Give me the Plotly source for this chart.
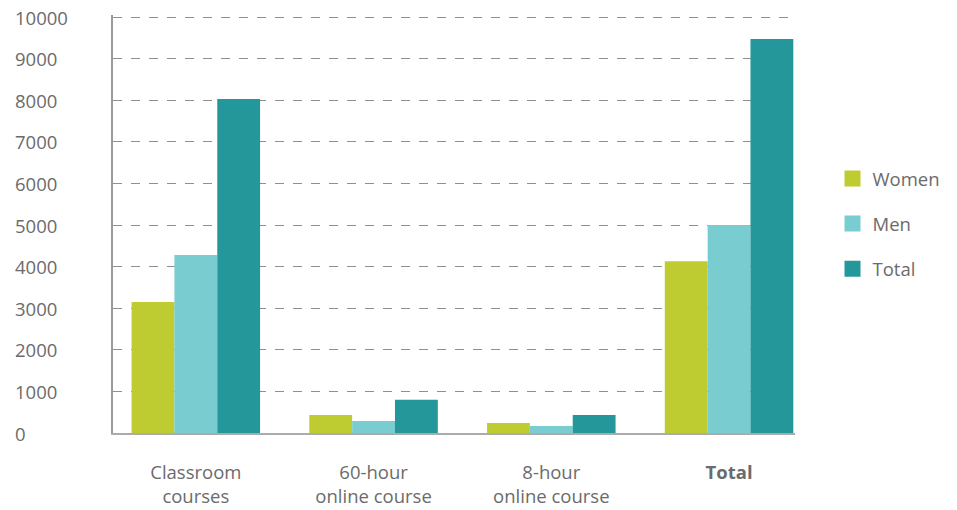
import plotly.graph_objects as go

categories = ["Classroom<br>courses", "60-hour<br>online course", "8-hour<br>online course", "<b>Total</b>"]
women = [3150, 430, 240, 4130]
men = [4280, 290, 170, 5000]
total = [8030, 800, 430, 9470]
y_ticks = [0, 1000, 2000, 3000, 4000, 5000, 6000, 7000, 8000, 9000, 10000]

series = [("Women", women, "#BFCC31"), ("Men", men, "#79CDD0"), ("Total", total, "#24979A")]
FONT = "'Open Sans', Lato, sans-serif"
TXT = "#6b6b6b"

fig = go.Figure()
for i, (name, vals, col) in enumerate(series):
    fig.add_trace(go.Bar(x=categories, y=vals, name=name, marker=dict(color=col, line=dict(width=0)),
                         showlegend=False))
for i, (name, vals, col) in enumerate(series):
    fig.add_trace(go.Scatter(x=[None], y=[None], mode="markers", name=name, legendgroup=name,
                             marker=dict(symbol="square", size=22, color=col), showlegend=True))

annotations = [dict(xref="paper", yref="y", x=-0.147, y=v, text=str(v), showarrow=False,
                    xanchor="left", yanchor="middle", font=dict(family=FONT, size=18.5, color=TXT))
               for v in y_ticks]

fig.update_layout(
    width=957, height=510,
    margin=dict(l=113, r=160, t=15, b=77),
    paper_bgcolor="white", plot_bgcolor="white",
    barmode="group", bargap=0.277, bargroupgap=0,
    font=dict(family=FONT, size=18, color=TXT),
    xaxis=dict(range=[-0.466, 3.371], showline=True, linecolor="#ababab", linewidth=2,
               showgrid=False, ticks="", ticklabelstandoff=22, automargin=False,
               tickfont=dict(size=18.5, color=TXT)),
    yaxis=dict(range=[0, 10050], tickvals=y_ticks, showticklabels=False, showline=True,
               linecolor="#9a9a9a", linewidth=1.5, showgrid=True, gridcolor="#8f8f8f",
               griddash="dash", gridwidth=1, zeroline=False, automargin=False),
    legend=dict(x=1.055, y=0.5, xanchor="left", yanchor="middle", tracegroupgap=18,
                font=dict(family=FONT, size=18.5, color=TXT), itemwidth=30),
    annotations=annotations,
)
fig.write_html("out.html")
